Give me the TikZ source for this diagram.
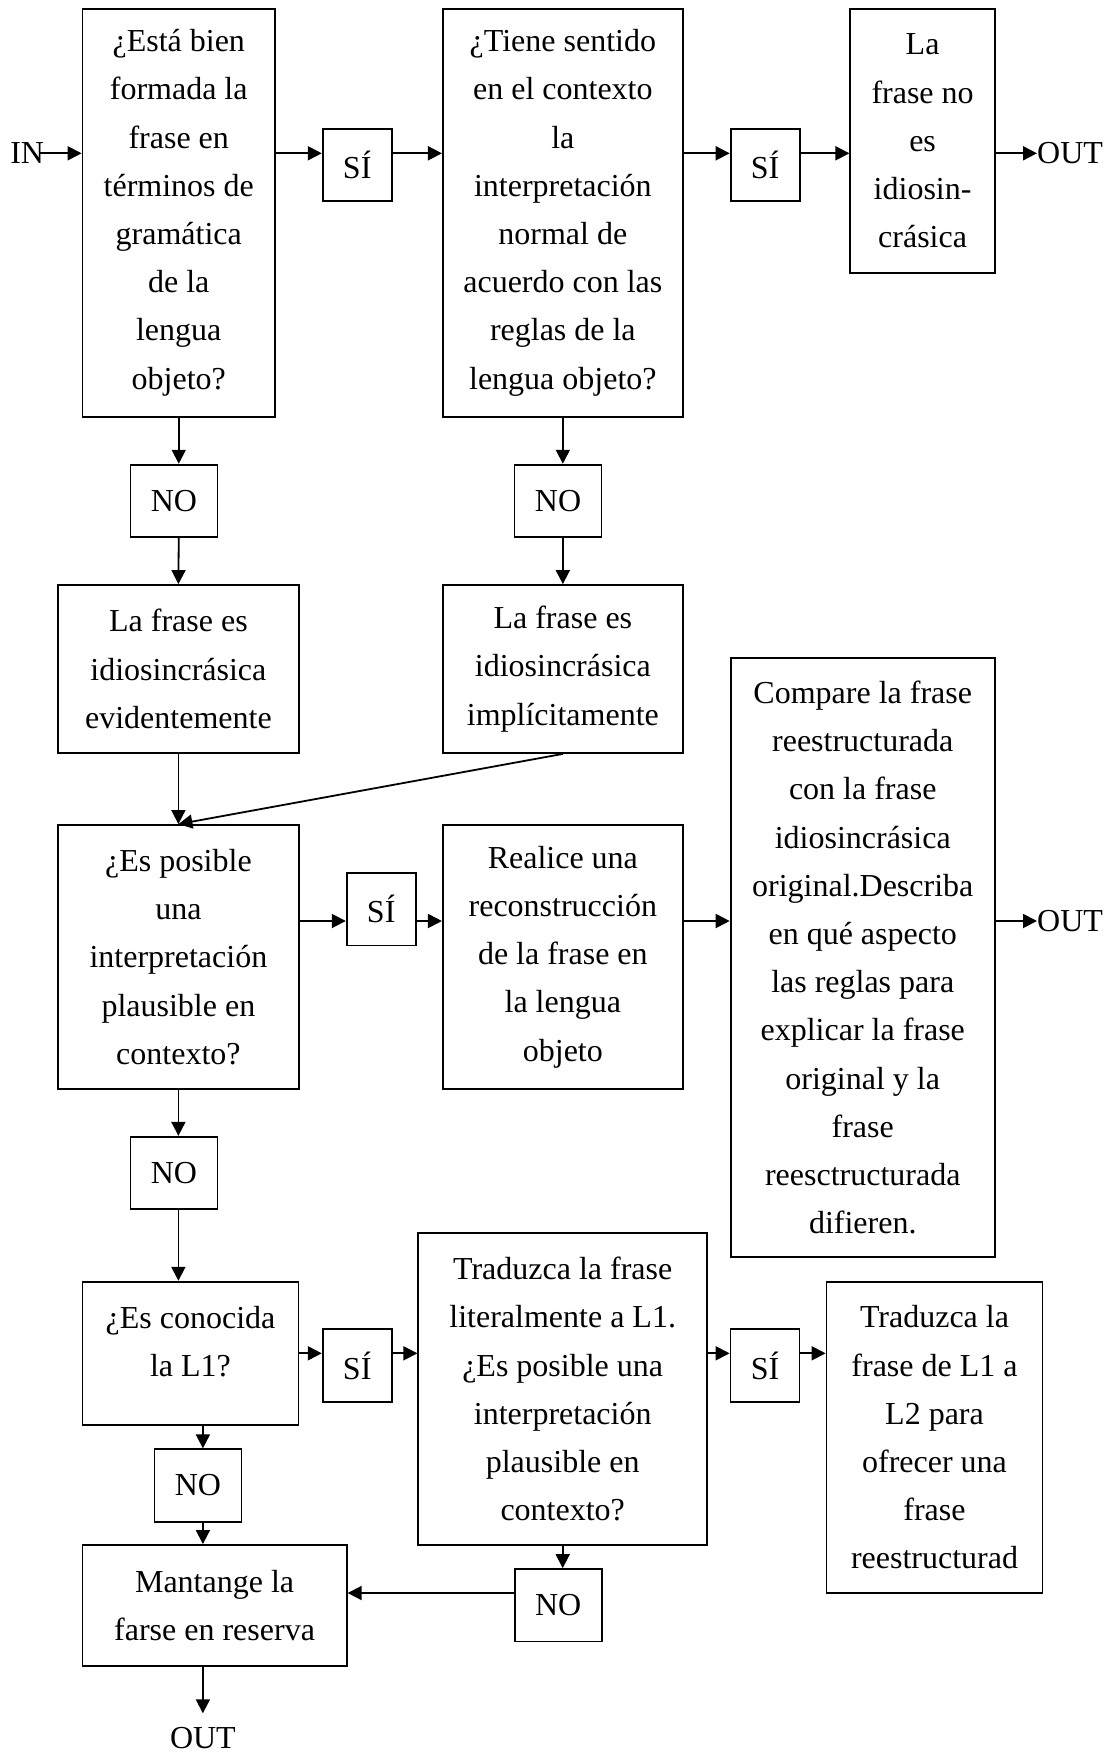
\documentclass[tikz,border=0pt]{standalone}
\usepackage{fontspec}
\setmainfont{Liberation Serif}
\usepackage{tikz}
\usetikzlibrary{arrows.meta,positioning}
\tikzset{
  txt/.style={font=\fontsize{32}{48.2}\selectfont},
  box/.style={txt,draw,line width=1.8pt,inner sep=0pt,align=center},
  sibox/.style={box,minimum width=69pt,minimum height=72.5pt},
  nobox/.style={box,minimum width=87pt,minimum height=72.5pt},
  arr/.style={line width=1.8pt,-{Triangle[length=14pt,width=14pt]}},
  lbl/.style={txt,inner sep=0pt},
}

\begin{document}
\begin{tikzpicture}[x=1pt,y=-1pt]
  \useasboundingbox (0,0) rectangle (1107,1753);
  \coordinate (r1) at (0,153.3);
  \coordinate (r2) at (0,921);
  \coordinate (r3) at (0,1353.3);
  \coordinate (r4) at (0,1593);
  \coordinate (c1) at (202.9,0);

  \node[box,minimum width=192.5pt,minimum height=408pt] (A) at (178.75,212.7)
    {¿Está bien\\formada la\\frase en\\términos de\\gramática\\de la\\lengua\\objeto?};
  \node[sibox] (si1) at (357.2,165) {SÍ};
  \node[box,minimum width=240pt,minimum height=408pt] (B) at (562.85,212.7)
    {¿Tiene sentido\\en el contexto\\la\\interpretación\\normal de\\acuerdo con las\\reglas de la\\lengua objeto?};
  \node[sibox] (si2) at (765.1,165) {SÍ};
  \node[box,minimum width=144.6pt,minimum height=264.6pt] (C) at (922.6,141)
    {La\\frase no\\es\\idiosin-\\crásica};
  \node[lbl] (in) at (27.2,153.3) {IN};
  \node[lbl,anchor=west] (out1) at (1037,153.3) {OUT};

  \node[nobox] (no1) at (174,500.9) {NO};
  \node[nobox] (no2) at (558,500.9) {NO};
  \node[box,minimum width=240.4pt,minimum height=168pt] (D) at (178.4,669)
    {La frase es\\idiosincrásica\\evidentemente};
  \node[box,minimum width=240pt,minimum height=168pt] (E) at (562.85,669)
    {La frase es\\idiosincrásica\\implícitamente};

  \node[box,minimum width=240.4pt,minimum height=264pt] (G) at (178.4,957)
    {¿Es posible\\una\\interpretación\\plausible en\\contexto?};
  \node[sibox] (si3) at (381.2,909.3) {SÍ};
  \node[box,minimum width=240pt,minimum height=264pt] (H) at (562.85,957)
    {Realice una\\reconstrucción\\de la frase en\\la lengua\\objeto};
  \node[box,minimum width=264.3pt,minimum height=599.6pt] (F) at (862.75,957.5)
    {Compare la frase\\reestructurada\\con la frase\\idiosincrásica\\original.Describa\\en qué aspecto\\las reglas para\\explicar la frase\\original y la\\frase\\reesctructurada\\difieren.};
  \node[lbl,anchor=west] (out2) at (1037,921) {OUT};

  \node[nobox] (no3) at (174,1173) {NO};
  \node[box,minimum width=216.1pt,minimum height=143.3pt,text depth=24pt] (I) at (190.5,1353.3)
    {¿Es conocida\\la L1?};
  \node[sibox] (si4) at (357.2,1365.5) {SÍ};
  \node[box,minimum width=288.8pt,minimum height=311.7pt] (J) at (562.7,1389.2)
    {Traduzca la frase\\literalmente a L1.\\¿Es posible una\\interpretación\\plausible en\\contexto?};
  \node[sibox] (si5) at (765,1365.5) {SÍ};
  \node[box,minimum width=216pt,minimum height=311.6pt] (K) at (934.5,1437.5)
    {Traduzca la\\frase de L1 a\\L2 para\\ofrecer una\\frase\\reestructurad};
  \node[nobox] (no4) at (198,1485.5) {NO};
  \node[box,minimum width=264.3pt,minimum height=120.7pt] (L) at (214.6,1605.3)
    {Mantange la\\farse en reserva};
  \node[nobox] (no5) at (558.2,1605.3) {NO};
  \coordinate (o3) at (202.9,1713.3);
  \node[lbl,below=13.7pt of o3] (out3) {OUT};

  \draw[arr] ([xshift=-5pt]in.east) -- (in.east -| A.west);
  \draw[arr] (A.east |- r1) -- (si1.west |- r1);
  \draw[arr] (si1.east |- r1) -- (B.west |- r1);
  \draw[arr] (B.east |- r1) -- (si2.west |- r1);
  \draw[arr] (si2.east |- r1) -- (C.west |- r1);
  \draw[arr] (C.east |- out1) -- (out1);

  \draw[arr] (A.south) -- (A.south |- no1.north);
  \draw[arr] (A.south |- no1.south) -- (D.north);
  \draw[arr] (B.south) -- (B.south |- no2.north);
  \draw[arr] (B.south |- no2.south) -- (E.north);
  \draw[arr] (D) -- (G);
  \draw[arr] (E.south) -- (G.north);

  \draw[arr] (G.east |- r2) -- (si3.west |- r2);
  \draw[arr] (si3.east |- r2) -- (H.west |- r2);
  \draw[arr] (H.east |- r2) -- (F.west |- r2);
  \draw[arr] (F.east |- out2) -- (out2);

  \draw[arr] (G.south) -- (G.south |- no3.north);
  \draw[arr] (G.south |- no3.south) -- (G.south |- I.north);
  \draw[arr] (I.east |- r3) -- (si4.west |- r3);
  \draw[arr] (si4.east |- r3) -- (J.west |- r3);
  \draw[arr] (J.east |- r3) -- (si5.west |- r3);
  \draw[arr] (si5.east |- r3) -- (K.west |- r3);

  \draw[arr] (c1 |- I.south) -- (c1 |- no4.north);
  \draw[arr] (c1 |- no4.south) -- (c1 |- L.north);
  \draw[arr] (J.south) -- (J.south |- no5.north);
  \draw[arr] (no5.west |- r4) -- (L.east |- r4);
  \draw[arr] (c1 |- L.south) -- (o3);
\end{tikzpicture}
\end{document}
